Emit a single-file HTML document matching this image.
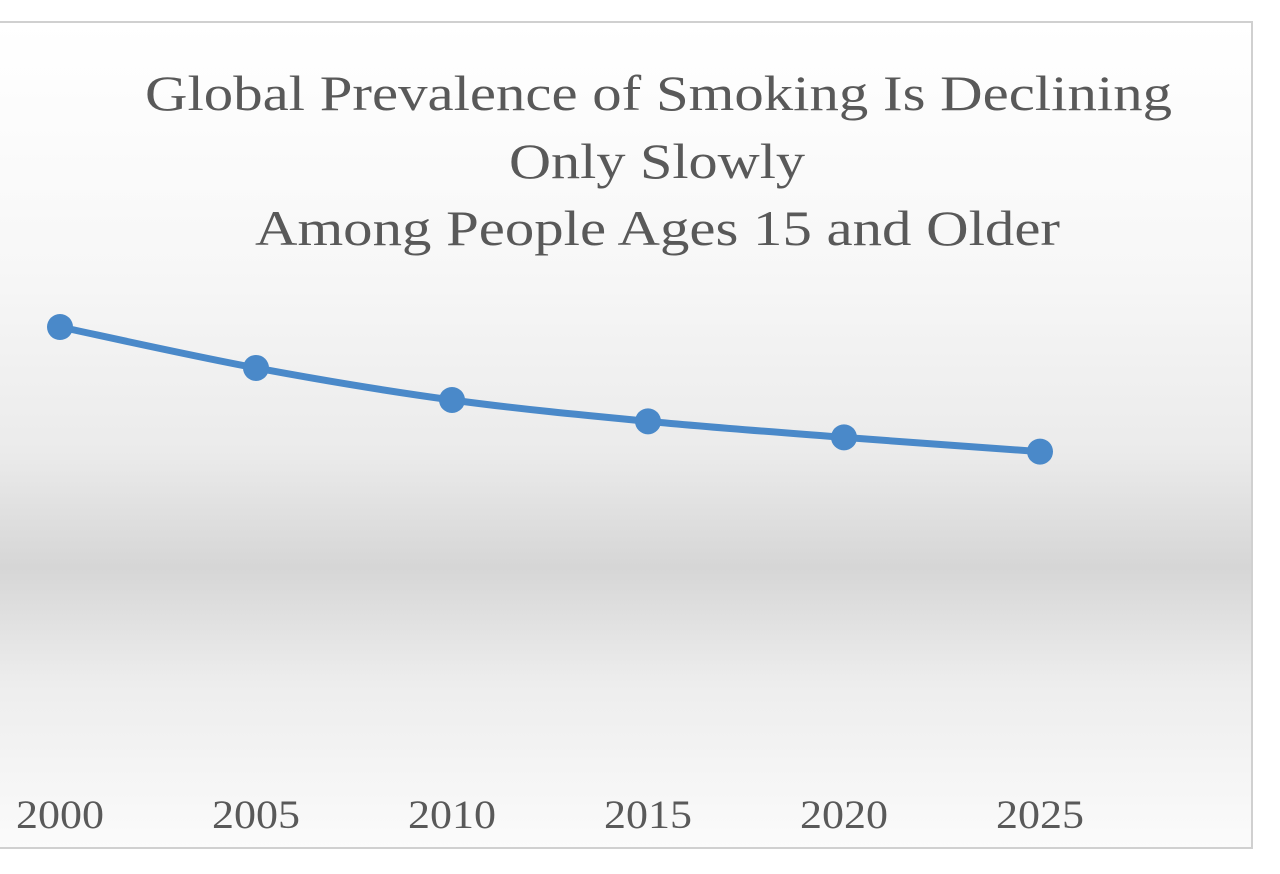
<!DOCTYPE html>
<html><head><meta charset="utf-8"><style>
html,body{margin:0;padding:0;background:#fff;width:1280px;height:874px;overflow:hidden}
svg{display:block}
</style></head><body>
<svg width="1280" height="874" viewBox="0 0 1280 874">
<defs>
<linearGradient id="bg" x1="0" y1="0" x2="0" y2="1">
<stop offset="0" stop-color="#ffffff"/>
<stop offset="0.3" stop-color="#f7f7f7"/>
<stop offset="0.52" stop-color="#ebebeb"/>
<stop offset="0.66" stop-color="#d6d6d6"/>
<stop offset="0.8" stop-color="#ededed"/>
<stop offset="1" stop-color="#fbfbfb"/>
</linearGradient>
</defs>
<rect x="-2" y="22" width="1254" height="826" fill="url(#bg)" stroke="#d0d0d0" stroke-width="2"/>
<g font-family="'Liberation Serif', serif" fill="#595959" font-size="50">
<text x="145" y="110" textLength="1027" lengthAdjust="spacingAndGlyphs">Global Prevalence of Smoking Is Declining</text>
<text x="509" y="178" textLength="296" lengthAdjust="spacingAndGlyphs">Only Slowly</text>
<text x="255" y="245" textLength="805" lengthAdjust="spacingAndGlyphs">Among People Ages 15 and Older</text>
</g>
<g id="xlabels" font-family="'Liberation Serif', serif" fill="#595959" font-size="40"></g>
<g id="series"></g>
</svg>
<script>
const years = ["2000","2005","2010","2015","2020","2025"];
const prevalence = [26.9, 24.6, 22.8, 21.6, 20.7, 19.9];
function xScale(i){ return 60 + i*196; }
function yScale(v){ return 327 + (26.9 - v)*17.8; }
const ns="http://www.w3.org/2000/svg";
const xl=document.getElementById('xlabels');
years.forEach((y,i)=>{
  const t=document.createElementNS(ns,'text');
  t.setAttribute('x',xScale(i)-44); t.setAttribute('y',828);
  t.setAttribute('textLength',88); t.setAttribute('lengthAdjust','spacingAndGlyphs');
  t.textContent=y;
  
  
  xl.appendChild(t);
});
const g=document.getElementById('series');
const pts=prevalence.map((v,i)=>[xScale(i),yScale(v)]);
let d='M'+pts[0][0]+','+pts[0][1];
for(let i=1;i<pts.length;i++){
  const p0=pts[Math.max(0,i-2)],p1=pts[i-1],p2=pts[i],p3=pts[Math.min(pts.length-1,i+1)];
  const c1=[p1[0]+(p2[0]-p0[0])/6,p1[1]+(p2[1]-p0[1])/6];
  const c2=[p2[0]-(p3[0]-p1[0])/6,p2[1]-(p3[1]-p1[1])/6];
  d+=` C${c1[0]},${c1[1]} ${c2[0]},${c2[1]} ${p2[0]},${p2[1]}`;
}
const path=document.createElementNS(ns,'path');
path.setAttribute('d',d);path.setAttribute('fill','none');
path.setAttribute('stroke','#4a89c9');path.setAttribute('stroke-width','7');


g.appendChild(path);
pts.forEach(p=>{
  const c=document.createElementNS(ns,'circle');
  c.setAttribute('cx',p[0]);c.setAttribute('cy',p[1]);c.setAttribute('r',13);
  c.setAttribute('fill','#4a89c9');
  
  
  g.appendChild(c);
});
</script>
</body></html>
